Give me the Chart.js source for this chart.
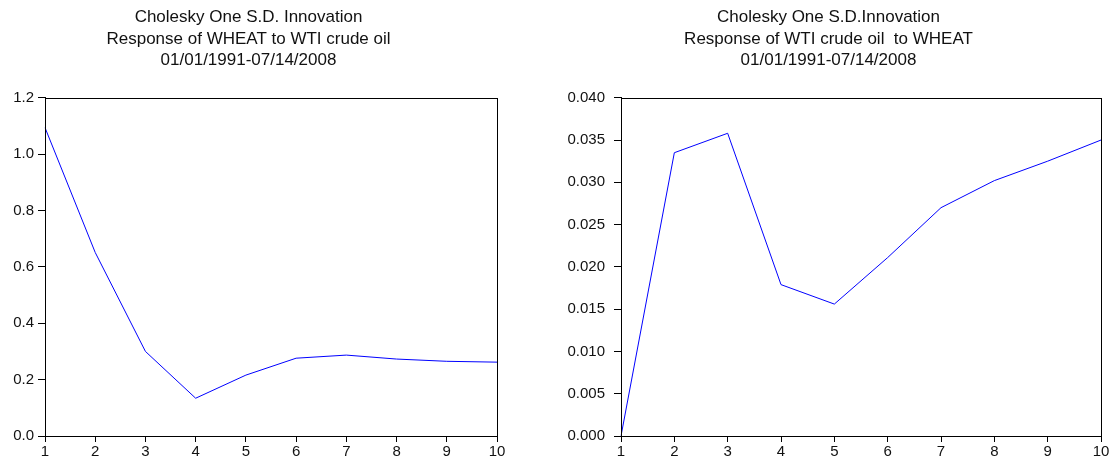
<!DOCTYPE html>
<html>
<head>
<meta charset="utf-8">
<script src="https://cdn.jsdelivr.net/npm/chart.js@4/dist/chart.umd.min.js"></script>
<style>
  html, body { margin: 0; padding: 0; background: #fff; }
  .wrap { display: flex; width: 1112px; height: 462px; }
  .box { position: relative; height: 462px; }
  #left { width: 556px; }
  #right { width: 556px; }
</style>
</head>
<body>
<div class="wrap">
  <div class="box" id="left"><canvas id="wheatChart"></canvas></div>
  <div class="box" id="right"><canvas id="oilChart"></canvas></div>
</div>
<script>
// Impulse response periods
const periods = ['1', '2', '3', '4', '5', '6', '7', '8', '9', '10'];

// Response of WHEAT to WTI crude oil
const wheatResponse = [1.094, 0.651, 0.300, 0.134, 0.216, 0.276, 0.287, 0.273, 0.265, 0.262];

// Response of WTI crude oil to WHEAT
const oilResponse = [0.0000, 0.0335, 0.0358, 0.0179, 0.0156, 0.0211, 0.0270, 0.0302, 0.0325, 0.0350];

const wheatTitle = ['Cholesky One S.D. Innovation', 'Response of WHEAT to WTI crude oil', '01/01/1991-07/14/2008'];
const oilTitle = ['Cholesky One S.D.Innovation', 'Response of WTI crude oil  to WHEAT', '01/01/1991-07/14/2008'];

const FONT = '"Liberation Sans", Arial, sans-serif';

// closes the plot box on top and right
const frame = {
  id: 'frame',
  afterDraw(chart) {
    const { ctx, chartArea: a } = chart;
    ctx.save();
    ctx.strokeStyle = '#000';
    ctx.lineWidth = 1;
    ctx.strokeRect(Math.round(a.left) + 0.5, Math.round(a.top) + 0.5,
      Math.round(a.right - a.left), Math.round(a.bottom - a.top));
    ctx.restore();
  }
};

function makeChart(id, title, values, yOpts, pad, yWidth) {
  const ctx = document.getElementById(id).getContext('2d');
  return new Chart(ctx, {
    type: 'line',
    data: {
      labels: periods,
      datasets: [{
        data: values,
        borderColor: '#0000ff',
        borderWidth: 1,
        pointRadius: 0,
        fill: false,
        tension: 0
      }]
    },
    options: {
      responsive: true,
      maintainAspectRatio: false,
      animation: false,
      layout: { padding: pad },
      plugins: {
        legend: { display: false },
        tooltip: { enabled: false },
        title: {
          display: true,
          text: title,
          color: '#111',
          font: { family: FONT, size: 17, weight: 'normal', lineHeight: 1.25 },
          padding: { top: 0, bottom: 27 }
        }
      },
      scales: {
        x: {
          offset: false,
          grid: { drawOnChartArea: false, tickLength: 6, color: '#000' },
          border: { color: '#000' },
          ticks: { color: '#111', font: { family: FONT, size: 15 }, padding: 1, maxRotation: 0 },
          afterFit: s => { s.height = 26; }
        },
        y: Object.assign({
          grid: { drawOnChartArea: false, tickLength: 7, color: '#000' },
          border: { color: '#000' },
          afterFit: s => { s.width = yWidth; }
        }, yOpts)
      }
    },
    plugins: [frame]
  });
}

makeChart('wheatChart', wheatTitle, wheatResponse, {
  min: 0, max: 1.2,
  ticks: { stepSize: 0.2, color: '#111', font: { family: FONT, size: 15 }, padding: 4,
    callback: v => v.toFixed(1) }
}, { top: 7, left: 0, right: 59, bottom: 0 }, 45);

makeChart('oilChart', oilTitle, oilResponse, {
  min: 0, max: 0.04,
  ticks: { stepSize: 0.005, color: '#111', font: { family: FONT, size: 15 }, padding: 9,
    callback: v => v.toFixed(3) }
}, { top: 7, left: 0, right: 11, bottom: 0 }, 65);
</script>
</body>
</html>
